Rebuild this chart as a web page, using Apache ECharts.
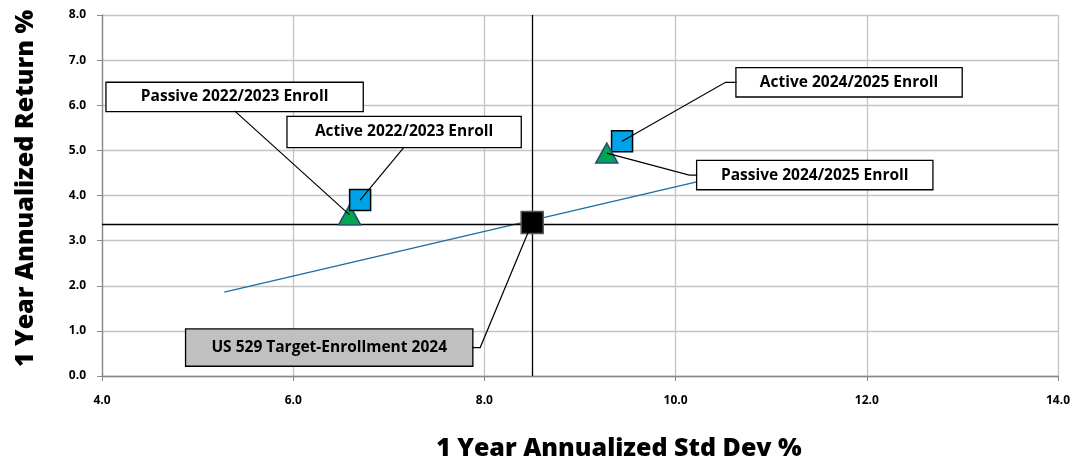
<!DOCTYPE html>
<html><head><meta charset="utf-8">
<script src="https://cdn.jsdelivr.net/npm/echarts@6/dist/echarts.min.js"></script>
<style>html,body{margin:0;background:#fff}#chart{width:1072px;height:462px}</style>
</head><body><div id="chart"></div>
<script>
// 数据：每个点一个系列（叠放顺序与原图一致）
const NAMES=['Passive 2022/2023 Enroll','Active 2022/2023 Enroll','Active 2024/2025 Enroll','Passive 2024/2025 Enroll','US 529 Target-Enrollment 2024'];
const STDDEV=[6.59,6.70,9.44,9.28,8.50];
const RETURN=[3.57,3.90,5.20,4.94,3.40];
const KIND=['passive','active','active','passive','bench'];
const BENCH_X=8.5, BENCH_Y=3.36;          // 十字参考线
const TREND=[[5.28,1.86],[10.4,4.39]];    // 蓝色趋势线端点

// 样式：标记外观、标签偏移/宽度、引线从标签哪条边出发
const MARK={
  passive:{symbol:'triangle',size:[22,20],color:'#00a650',border:'#2b4a7a'},
  active:{symbol:'rect',size:21,color:'#00a3e6',border:'#000'},
  bench:{symbol:'rect',size:22,color:'#000',border:'#555'},
};
const LBL=[
  {dx:-115,dy:-118,w:256,pad:6,side:'bottom'},
  {dx:44,dy:-68,w:233,pad:7,side:'bottom'},
  {dx:227,dy:-59,w:225,pad:6,side:'left',elbow:11},
  {dx:208,dy:22,w:235,pad:6,side:'left',elbow:8},
  {dx:-203,dy:125,w:286,pad:10,side:'right',elbow:8},
];
const LH=16, FONT='"Open Sans", sans-serif';

const chart=echarts.init(document.getElementById('chart'));
const pts=NAMES.map((n,i)=>{
  const m=MARK[KIND[i]], l=LBL[i];
  return {name:n,type:'scatter',z:10+i,
    symbol:m.symbol,symbolSize:m.size,
    itemStyle:{color:m.color,borderColor:m.border,borderWidth:1.5,opacity:1},
    label:{show:true,position:'inside',formatter:n,
      fontFamily:FONT,fontSize:15.5,fontWeight:'bold',color:'#000',
      width:l.w,align:'center',lineHeight:LH,padding:[l.pad,0,l.pad,0],
      backgroundColor:KIND[i]==='bench'?'#c0c0c0':'#fff',
      borderColor:'#000',borderWidth:1.3},
    labelLayout:{dx:l.dx,dy:l.dy},
    emphasis:{disabled:true},
    data:[[STDDEV[i],RETURN[i]]]};
});

const axisCommon={
  nameLocation:'middle',
  axisLine:{show:true,lineStyle:{color:'#888',width:1.3}},
  axisTick:{show:true,length:5,lineStyle:{color:'#888'}},
  splitLine:{show:true,lineStyle:{color:'#c4c4c4',width:1.3}},
};
chart.setOption({
  animation:false,
  grid:{left:102,right:14,top:15,bottom:86,outerBoundsMode:'none'},
  xAxis:{...axisCommon,type:'value',min:4,max:14,interval:2,
    name:'1 Year Annualized Std Dev %',nameGap:60,
    nameTextStyle:{fontFamily:FONT,fontSize:25,fontWeight:800,color:'#000',padding:[0,0,0,78]},
    axisLabel:{margin:19,fontFamily:FONT,fontSize:12,fontWeight:'bold',color:'#000',formatter:v=>v.toFixed(1)}},
  yAxis:{...axisCommon,type:'value',min:0,max:8,interval:1,
    name:'1 Year Annualized Return %',nameGap:64,nameRotate:90,
    nameTextStyle:{fontFamily:FONT,fontSize:25,fontWeight:800,color:'#000',padding:[0,0,0,14]},
    axisLabel:{margin:16,fontFamily:FONT,fontSize:12,fontWeight:'bold',color:'#000',formatter:v=>v.toFixed(1)}},
  series:[
    {type:'line',data:TREND,showSymbol:false,z:3,silent:true,
     lineStyle:{color:'#1a6ea0',width:1.3},
     markLine:{silent:true,symbol:'none',label:{show:false},
       lineStyle:{color:'#000',width:1.3,type:'solid'},
       data:[{xAxis:BENCH_X},{yAxis:BENCH_Y}]}},
    ...pts,
  ],
});

// 引线：标签边中点 →（可选短横线）→ 标记中心；位置由坐标轴换算
function drawLeaders(){
  const els=NAMES.map((n,i)=>{
    const l=LBL[i], c=chart.convertToPixel({gridIndex:0},[STDDEV[i],RETURN[i]]);
    const w=l.w, h=LH+2*l.pad, lx=c[0]+l.dx, ly=c[1]+l.dy;
    let a,b;
    if(l.side==='bottom'){ a=[lx,ly+h/2]; b=a; }
    else if(l.side==='left'){ a=[lx-w/2,ly]; b=[a[0]-l.elbow,ly]; }
    else { a=[lx+w/2,ly]; b=[a[0]+l.elbow,ly]; }
    return {type:'polyline',z:50,silent:true,shape:{points:[a,b,c]},
      style:{stroke:'#000',lineWidth:1.2,fill:null}};
  });
  chart.setOption({graphic:{elements:els}});
}
drawLeaders();
</script></body></html>
